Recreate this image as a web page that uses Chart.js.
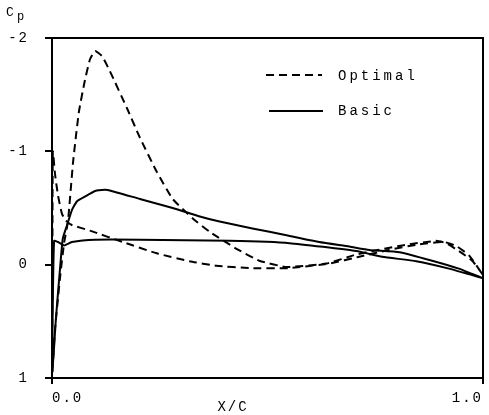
<!DOCTYPE html>
<html lang="en">
<head>
  <meta charset="utf-8">
  <script src="https://cdn.jsdelivr.net/npm/chart.js@4.4.1/dist/chart.umd.min.js"></script>
  <style>
    html, body { margin: 0; padding: 0; background: #fff; }
    #wrap { position: relative; width: 489px; height: 415px; }
  </style>
</head>
<body>
  <div id="wrap">
    <canvas id="cp-chart" width="489" height="415"></canvas>
  </div>
<script>
  // 상면 (leading edge -> trailing edge), Cp 값
  const optUpperX  = [0, 0.007, 0.0185, 0.028, 0.037, 0.049, 0.0625, 0.076, 0.088, 0.1, 0.116, 0.134, 0.174, 0.204, 0.243, 0.28, 0.326, 0.366, 0.428, 0.481, 0.544, 0.637, 0.706, 0.8125, 0.891, 0.914, 0.944, 0.975, 1.0];
  const optUpperCp = [1.0, 0.57, 0.12, -0.19, -0.38, -0.91, -1.35, -1.62, -1.81, -1.885, -1.84, -1.71, -1.38, -1.12, -0.82, -0.58, -0.41, -0.29, -0.14, -0.035, 0.02, -0.01, -0.09, -0.17, -0.21, -0.19, -0.12, -0.035, 0.09];
  const optLowerX  = [0, 0.001, 0.002, 0.007, 0.014, 0.023, 0.032, 0.046, 0.088, 0.164, 0.243, 0.319, 0.382, 0.458, 0.551, 0.644, 0.713, 0.782, 0.852, 0.91, 0.94, 0.968, 1.0];
  const optLowerCp = [1.0, -0.14, -1.0, -0.8, -0.61, -0.45, -0.39, -0.35, -0.30, -0.20, -0.10, -0.03, 0.01, 0.03, 0.03, -0.01, -0.07, -0.13, -0.18, -0.20, -0.16, -0.08, 0.09];

  const basicUpperX  = [0, 0.009, 0.0185, 0.025, 0.035, 0.046, 0.058, 0.076, 0.1, 0.123, 0.134, 0.204, 0.28, 0.343, 0.389, 0.465, 0.544, 0.62, 0.69, 0.736, 0.806, 0.882, 0.944, 1.0];
  const basicUpperCp = [1.0, 0.48, 0.04, -0.23, -0.35, -0.48, -0.56, -0.60, -0.65, -0.66, -0.655, -0.58, -0.50, -0.425, -0.38, -0.32, -0.26, -0.20, -0.16, -0.13, -0.11, -0.035, 0.035, 0.12];
  const basicLowerX  = [0, 0.002, 0.005, 0.014, 0.028, 0.046, 0.1, 0.204, 0.412, 0.551, 0.706, 0.766, 0.845, 0.921, 1.0];
  const basicLowerCp = [1.0, 0.3, -0.21, -0.2, -0.17, -0.2, -0.22, -0.22, -0.21, -0.19, -0.12, -0.07, -0.03, 0.035, 0.12];

  const xTicks = [0, 1];
  const yTicks = [-2, -1, 0, 1];

  // 상면을 뒤집어 TE -> LE -> TE 하나의 경로로
  function loop(ux, uy, lx, ly) {
    const pts = [];
    for (let i = ux.length - 1; i >= 0; i--) pts.push({ x: ux[i], y: uy[i] });
    for (let i = 1; i < lx.length; i++) pts.push({ x: lx[i], y: ly[i] });
    return pts;
  }

  const FONT = 'Liberation Mono, DejaVu Sans Mono, monospace';

  const decoPlugin = {
    id: 'deco',
    beforeDraw(chart) {
      chart.ctx.letterSpacing = '2px';
    },
    afterDraw(chart) {
      const ctx = chart.ctx;
      const a = chart.chartArea;
      ctx.save();
      ctx.strokeStyle = '#000';
      ctx.lineWidth = 2;
      ctx.strokeRect(a.left, a.top, a.right - a.left, a.bottom - a.top);

      // 범례
      ctx.lineWidth = 2;
      ctx.setLineDash([8, 5]);
      ctx.beginPath(); ctx.moveTo(266, 75); ctx.lineTo(322, 75); ctx.stroke();
      ctx.setLineDash([]);
      ctx.beginPath(); ctx.moveTo(269, 111); ctx.lineTo(323, 111); ctx.stroke();

      ctx.fillStyle = '#000';
      ctx.font = '14px ' + FONT;
      ctx.letterSpacing = '3px';
      ctx.textBaseline = 'middle';
      ctx.textAlign = 'left';
      ctx.fillText('Optimal', 338, 76);
      ctx.fillText('Basic', 338, 111);

      ctx.letterSpacing = '2px';
      ctx.textAlign = 'center';
      ctx.fillText('X/C', 233, 407);

      ctx.textAlign = 'left';
      ctx.letterSpacing = '0px';
      ctx.font = '13px ' + FONT;
      ctx.fillText('C', 6, 13);
      ctx.font = '12px ' + FONT;
      ctx.fillText('p', 17, 17);
      ctx.restore();
    }
  };

  const chartConfig = {
    type: 'scatter',
    data: {
      datasets: [{
          label: 'Optimal',
          data: loop(optUpperX, optUpperCp, optLowerX, optLowerCp),
          showLine: true,
          borderColor: '#000',
          borderWidth: 2,
          borderDash: [8, 5],
          pointRadius: 0,
          tension: 0.15,
        }, {
          label: 'Basic',
          data: loop(basicUpperX, basicUpperCp, basicLowerX, basicLowerCp),
          showLine: true,
          borderColor: '#000',
          borderWidth: 2,
          pointRadius: 0,
          tension: 0.15,
        }
      ]
    },
    options: {
      responsive: false,
      animation: false,
      layout: { padding: { top: 38, left: 0, right: 5, bottom: 0 } },
      plugins: {
        legend: { display: false },
        tooltip: { enabled: false },
      },
      scales: {
        x: {
          type: 'linear',
          min: 0,
          max: 1,
          afterFit: (s) => { s.height = 37; },
          afterBuildTicks: (s) => { s.ticks = xTicks.map(v => ({ value: v })); },
          border: { display: false },
          grid: { drawOnChartArea: false, drawTicks: true, tickLength: 6, color: '#000', lineWidth: 2 },
          ticks: {
            align: 'inner',
            padding: 6,
            color: '#000',
            font: { family: FONT, size: 14 },
            callback: (v) => Number(v).toFixed(1),
          }
        },
        y: {
          type: 'linear',
          reverse: true,
          min: -2,
          max: 1,
          afterFit: (s) => { s.width = 52; },
          afterBuildTicks: (s) => { s.ticks = yTicks.map(v => ({ value: v })); },
          border: { display: false },
          grid: { drawOnChartArea: false, drawTicks: true, tickLength: 7, color: '#000', lineWidth: 2 },
          ticks: {
            padding: 16,
            color: '#000',
            font: { family: FONT, size: 14 },
            callback: (v) => String(v),
          }
        }
      }
    },
    plugins: [decoPlugin]
  };

  new Chart(document.getElementById('cp-chart').getContext('2d'), chartConfig);
</script>
</body>
</html>
